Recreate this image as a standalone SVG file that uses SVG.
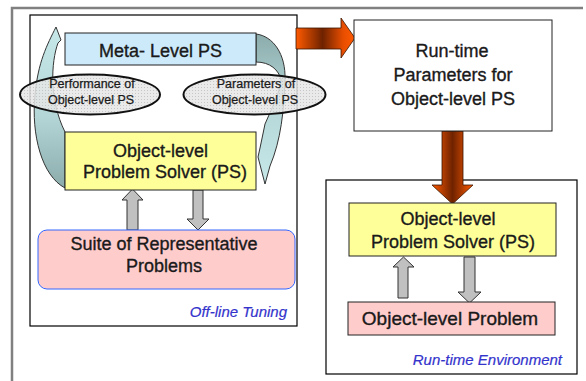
<svg xmlns="http://www.w3.org/2000/svg" width="586" height="381" viewBox="0 0 586 381">
  <style>
    .lbl { font-family: "Liberation Sans", Arial, sans-serif; fill: #1a1a1a; stroke: #1a1a1a; stroke-width: 0.35; text-anchor: middle; }
    .big { font-size: 18px; }
    .small { font-size: 12.5px; stroke-width: 0.25; }
    .note { font-family: "Liberation Sans", Arial, sans-serif; font-style: italic; fill: #3333cc; stroke: #3333cc; stroke-width: 0.2; font-size: 15px; text-anchor: end; }
    .frame { fill: none; stroke: #000; stroke-width: 1.2; }
    .gray-arrow { fill: #c0c0c0; stroke: #333; stroke-width: 1; }
    .bubble { fill: url(#dots); stroke: #111; stroke-width: 2; }
  </style>
  <defs>
    <linearGradient id="tealUp" x1="0" y1="0" x2="0" y2="1">
      <stop offset="0" stop-color="#c6e8e8"/>
      <stop offset="0.55" stop-color="#b4d6d6"/>
      <stop offset="1" stop-color="#8cacac"/>
    </linearGradient>
    <linearGradient id="tealDown" x1="0" y1="0" x2="0" y2="1">
      <stop offset="0" stop-color="#8cacac"/>
      <stop offset="0.45" stop-color="#b4d6d6"/>
      <stop offset="1" stop-color="#c6e8e8"/>
    </linearGradient>
    <linearGradient id="rustH" x1="296" y1="0" x2="355" y2="0" gradientUnits="userSpaceOnUse">
      <stop offset="0" stop-color="#ff5a00"/>
      <stop offset="0.45" stop-color="#6e2200"/>
      <stop offset="0.8" stop-color="#e84e00"/>
      <stop offset="1" stop-color="#ff5a00"/>
    </linearGradient>
    <linearGradient id="rustV" x1="432" y1="0" x2="473" y2="0" gradientUnits="userSpaceOnUse">
      <stop offset="0" stop-color="#ff5a00"/>
      <stop offset="0.5" stop-color="#6e2200"/>
      <stop offset="1" stop-color="#ff5a00"/>
    </linearGradient>
    <pattern id="dots" width="3" height="3" patternUnits="userSpaceOnUse">
      <rect width="3" height="3" fill="#e6e6e6" fill-opacity="0.85"/>
      <rect width="1" height="1" fill="#bdbdbd" fill-opacity="0.8"/>
    </pattern>
  </defs>

  <!-- page border -->
  <path d="M12,381 V8 H583" fill="none" stroke="#808080" stroke-width="2.5"/>

  <!-- off-line tuning area -->
  <g id="offline-tuning">
    <rect class="frame" x="30" y="15" width="267" height="311" fill="#fff"/>
    <text class="note" x="287" y="317">Off-line Tuning</text>
  </g>

  <!-- run-time environment area -->
  <g id="runtime-environment">
    <rect class="frame" x="326" y="180" width="251" height="194" fill="#fff"/>
    <text class="note" x="562" y="365">Run-time Environment</text>
  </g>

  <!-- feedback loop arrows -->
  <g id="connectors">
    <path d="M56,27 L61,40 L58,43 C51,62 49,100 65,132 L65,188 C42,176 31,135 35,95 C38,62 47,45 56,27 Z"
          fill="url(#tealUp)" stroke="#333" stroke-width="1"/>
    <path d="M256,34 C273,36 286,54 285,80 C284,110 281,140 270,166 L265,184 L258,157 L260,148 L265,124 C272,108 280,92 281,80 C279,70 270,62 256,62 Z"
          fill="url(#tealDown)" stroke="#333" stroke-width="1"/>

    <!-- object PS <-> suite of problems -->
    <path class="gray-arrow" d="M127,230 V200 H122 L132.5,189 L143,200 H138 V230 Z"/>
    <path class="gray-arrow" d="M193,190 V219 H187 L198,230 L209,219 H203 V190 Z"/>

    <!-- object PS <-> object-level problem -->
    <path class="gray-arrow" d="M398,298 V267 H393 L403.5,257 L414,267 H408 V298 Z"/>
    <path class="gray-arrow" d="M464,257 V292 H458 L469.5,303 L481,292 H475 V257 Z"/>

    <!-- tuning output to run-time parameters -->
    <path d="M296,28 H341 V18 L355,38 L341,58 V49 H296 Z" fill="url(#rustH)" stroke="#3a1500" stroke-width="0.8"/>
    <!-- run-time parameters into the deployed solver -->
    <path d="M442,131 V185 H432 L452.5,204 L473,185 H463 V131 Z" fill="url(#rustV)" stroke="#3a1500" stroke-width="0.8"/>
  </g>

  <g id="meta-level-ps">
    <rect x="65" y="33" width="191" height="32" fill="#cdeafb" stroke="#222" stroke-width="1"/>
    <text class="lbl big" x="160.5" y="56.5">Meta- Level PS</text>
  </g>

  <g id="object-ps-offline">
    <rect x="65" y="132" width="191" height="58" fill="#ffff99" stroke="#222" stroke-width="1"/>
    <text class="lbl big" x="160.5" y="157">Object-level</text>
    <text class="lbl big" x="165" y="178">Problem Solver (PS)</text>
  </g>

  <g id="performance-bubble">
    <ellipse class="bubble" cx="90" cy="94.5" rx="70" ry="20"/>
    <text class="lbl small" x="92" y="88">Performance of</text>
    <text class="lbl small" x="91" y="104">Object-level PS</text>
  </g>

  <g id="parameters-bubble">
    <ellipse class="bubble" cx="254.5" cy="94.5" rx="71" ry="20"/>
    <text class="lbl small" x="256" y="88">Parameters of</text>
    <text class="lbl small" x="255" y="104">Object-level PS</text>
  </g>

  <g id="suite-of-problems">
    <rect x="38" y="230" width="257" height="59" rx="9" fill="#ffcccc" stroke="#3366ff" stroke-width="1"/>
    <text class="lbl big" x="164" y="250">Suite of Representative</text>
    <text class="lbl big" x="164" y="272">Problems</text>
  </g>

  <g id="runtime-parameters">
    <rect x="354" y="20" width="198" height="111" fill="#fff" stroke="#222" stroke-width="1"/>
    <text class="lbl big" x="452" y="57">Run-time</text>
    <text class="lbl big" x="453" y="81">Parameters for</text>
    <text class="lbl big" x="453" y="105">Object-level PS</text>
  </g>

  <g id="object-ps-runtime">
    <rect x="349" y="203" width="207" height="53" fill="#ffff99" stroke="#222" stroke-width="1"/>
    <text class="lbl big" x="448" y="225">Object-level</text>
    <text class="lbl big" x="453" y="248">Problem Solver (PS)</text>
  </g>

  <g id="object-level-problem">
    <rect x="348" y="302" width="207" height="33" fill="#ffcccc" stroke="#222" stroke-width="1"/>
    <text class="lbl" x="450" y="325" font-size="19">Object-level Problem</text>
  </g>
</svg>
